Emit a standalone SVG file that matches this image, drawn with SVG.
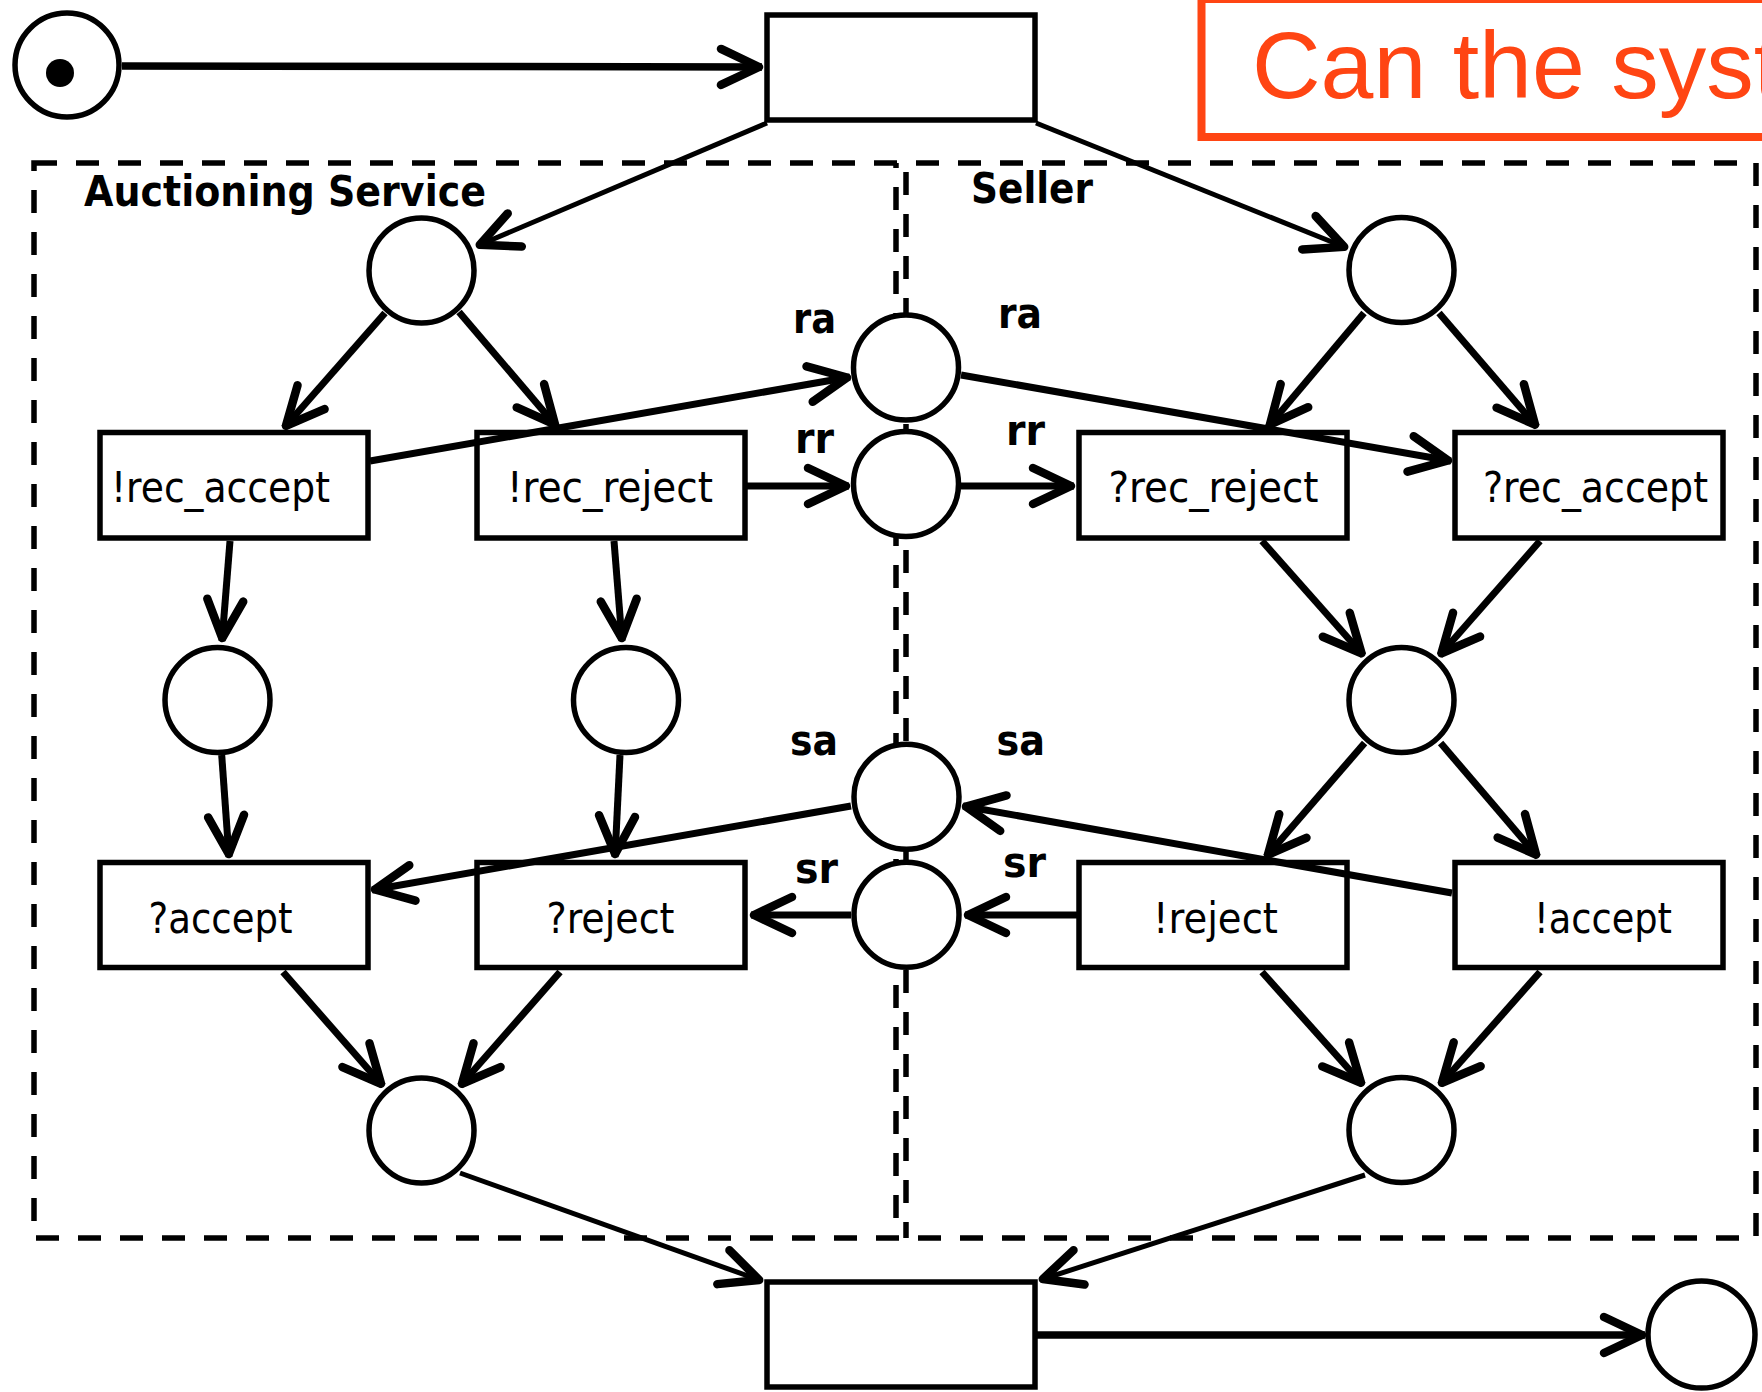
<svg xmlns="http://www.w3.org/2000/svg" width="1762" height="1392" viewBox="0 0 1762 1392">
<defs>
<style>
.pl{fill:#fff;stroke:#000;stroke-width:5.5}
.tr{fill:#fff;stroke:#000;stroke-width:5.5}
.arc{fill:none;stroke:#000;stroke-width:7;marker-end:url(#arr)}
.thin{stroke-width:5}
.thick{stroke-width:7.5}
.dash{fill:none;stroke:#000;stroke-width:5.5;stroke-dasharray:23 19}
.lbl{font-family:"DejaVu Sans Condensed","DejaVu Sans",sans-serif;font-size:42px;fill:#000}
.ch{font-family:"DejaVu Sans Condensed","DejaVu Sans",sans-serif;font-weight:bold;font-size:42px;fill:#000}
.title{font-family:"DejaVu Sans Condensed","DejaVu Sans",sans-serif;font-weight:bold;font-size:43px;fill:#000}
</style>
<marker id="arr" markerUnits="userSpaceOnUse" markerWidth="60" markerHeight="60" viewBox="-50 -30 60 60" refX="3" refY="0" orient="auto" overflow="visible">
<path d="M-38,-18 L0,0 L-38,18" fill="none" stroke="#000" stroke-width="8.5" stroke-linecap="round" stroke-linejoin="round"/>
</marker>
</defs>
<rect width="1762" height="1392" fill="#fff"/>

<g id="boundaries">
<path class="dash" d="M34,163 H1756 V1238 H34 Z"/>
<line class="dash" x1="896" y1="163" x2="896" y2="1238" stroke-dashoffset="18"/>
<line class="dash" x1="906" y1="163" x2="906" y2="1238" stroke-dashoffset="33"/>
<text class="title" x="84" y="206" textLength="402" lengthAdjust="spacingAndGlyphs">Auctioning Service</text>
<text class="title" x="971" y="203" textLength="122" lengthAdjust="spacingAndGlyphs">Seller</text>
</g>

<g id="question">
<rect x="1201.5" y="-1" width="700" height="138" fill="none" stroke="#FF4513" stroke-width="8"/>
<text x="1252" y="98" font-family="'Liberation Sans',Arial,sans-serif" font-size="95" fill="#FF4513">Can the syst</text>
</g>

<g id="start"><circle class="pl" cx="67" cy="65" r="52"/><circle cx="60" cy="73" r="14" fill="#000"/></g>
<g id="t_init"><rect class="tr" x="767" y="15" width="268" height="105"/></g>
<g id="t_final"><rect class="tr" x="767" y="1282" width="268" height="105"/></g>
<g id="p_end"><circle class="pl" cx="1701.5" cy="1334.5" r="53.5"/></g>

<g id="p_as_start"><circle class="pl" cx="421.5" cy="270.5" r="52.5"/></g>
<g id="p_s_start"><circle class="pl" cx="1401.5" cy="270" r="52.5"/></g>
<g id="p_as_a"><circle class="pl" cx="217.5" cy="700" r="52.5"/></g>
<g id="p_as_r"><circle class="pl" cx="626" cy="700" r="52.5"/></g>
<g id="p_s_mid"><circle class="pl" cx="1401.5" cy="700" r="52.5"/></g>
<g id="p_as_end"><circle class="pl" cx="421.5" cy="1130.5" r="52.5"/></g>
<g id="p_s_end"><circle class="pl" cx="1401.5" cy="1130" r="52.5"/></g>

<g id="ra"><circle class="pl" cx="906" cy="367.5" r="52.5"/>
<text class="ch" x="793" y="333" textLength="43" lengthAdjust="spacingAndGlyphs">ra</text>
<text class="ch" x="998" y="328" textLength="44" lengthAdjust="spacingAndGlyphs">ra</text></g>
<g id="rr"><circle class="pl" cx="906" cy="484" r="52.5"/>
<text class="ch" x="795" y="453" textLength="39" lengthAdjust="spacingAndGlyphs">rr</text>
<text class="ch" x="1006" y="445" textLength="39" lengthAdjust="spacingAndGlyphs">rr</text></g>
<g id="sa"><circle class="pl" cx="906.5" cy="796.7" r="52.5"/>
<text class="ch" x="790" y="755" textLength="48" lengthAdjust="spacingAndGlyphs">sa</text>
<text class="ch" x="996.5" y="755" textLength="48.5" lengthAdjust="spacingAndGlyphs">sa</text></g>
<g id="sr"><circle class="pl" cx="906.5" cy="914.7" r="52.5"/>
<text class="ch" x="795" y="883" textLength="43" lengthAdjust="spacingAndGlyphs">sr</text>
<text class="ch" x="1003" y="877" textLength="43" lengthAdjust="spacingAndGlyphs">sr</text></g>

<g id="t_rec_accept_out"><rect class="tr" x="100" y="432.5" width="268" height="105.5"/>
<text class="lbl" x="111" y="502" textLength="219" lengthAdjust="spacingAndGlyphs">!rec_accept</text></g>
<g id="t_rec_reject_out"><rect class="tr" x="477" y="432.5" width="268" height="105.5"/>
<text class="lbl" x="507" y="502" textLength="206" lengthAdjust="spacingAndGlyphs">!rec_reject</text></g>
<g id="t_rec_reject_in"><rect class="tr" x="1079" y="432.5" width="268" height="105.5"/>
<text class="lbl" x="1108.5" y="502" textLength="210" lengthAdjust="spacingAndGlyphs">?rec_reject</text></g>
<g id="t_rec_accept_in"><rect class="tr" x="1455" y="432.5" width="268" height="105.5"/>
<text class="lbl" x="1483" y="502" textLength="225" lengthAdjust="spacingAndGlyphs">?rec_accept</text></g>
<g id="t_accept_in"><rect class="tr" x="100" y="862.5" width="268" height="105"/>
<text class="lbl" x="148.5" y="933" textLength="144" lengthAdjust="spacingAndGlyphs">?accept</text></g>
<g id="t_reject_in"><rect class="tr" x="477" y="862.5" width="268" height="105"/>
<text class="lbl" x="546.5" y="933" textLength="128" lengthAdjust="spacingAndGlyphs">?reject</text></g>
<g id="t_reject_out"><rect class="tr" x="1079" y="862.5" width="268" height="105"/>
<text class="lbl" x="1153" y="933" textLength="125" lengthAdjust="spacingAndGlyphs">!reject</text></g>
<g id="t_accept_out"><rect class="tr" x="1455" y="862.5" width="268" height="105"/>
<text class="lbl" x="1534" y="933" textLength="138" lengthAdjust="spacingAndGlyphs">!accept</text></g>

<g id="connectors">
<path class="arc thick" d="M122,66 L762,67"/>
<path class="arc thin" d="M767,123 L477,246"/>
<path class="arc thin" d="M1036,123 L1347,248"/>
<path class="arc" d="M385,313 L284,428"/>
<path class="arc" d="M459,312 L557,427"/>
<path class="arc" d="M370,461 L850,377"/>
<path class="arc" d="M747,486 L849,486"/>
<path class="arc" d="M961,375 L1451,461"/>
<path class="arc" d="M961,486 L1074,486"/>
<path class="arc" d="M1364,313 L1268,427"/>
<path class="arc" d="M1439,313 L1537,427"/>
<path class="arc" d="M230,541 L222,641"/>
<path class="arc" d="M614,541 L622,641"/>
<path class="arc" d="M221.7,755 L229,857"/>
<path class="arc" d="M620,755 L615,857"/>
<path class="arc" d="M851,806 L372,890"/>
<path class="arc" d="M851,915 L751,915"/>
<path class="arc" d="M1452,893 L963,806"/>
<path class="arc" d="M1077,915 L965,915"/>
<path class="arc" d="M1262,541 L1363.5,655.5"/>
<path class="arc" d="M1540,541 L1439.5,655.5"/>
<path class="arc" d="M1364.6,743 L1266,857"/>
<path class="arc" d="M1440.6,743 L1538,857"/>
<path class="arc" d="M283,972 L383,1086"/>
<path class="arc" d="M560,972 L460,1086"/>
<path class="arc" d="M1262,972 L1363,1085"/>
<path class="arc" d="M1540,972 L1440,1085"/>
<path class="arc thin" d="M460,1173 L762,1281"/>
<path class="arc thin" d="M1365,1175 L1040,1280"/>
<path class="arc thick" d="M1036,1335 L1645,1335"/>
</g>
</svg>
